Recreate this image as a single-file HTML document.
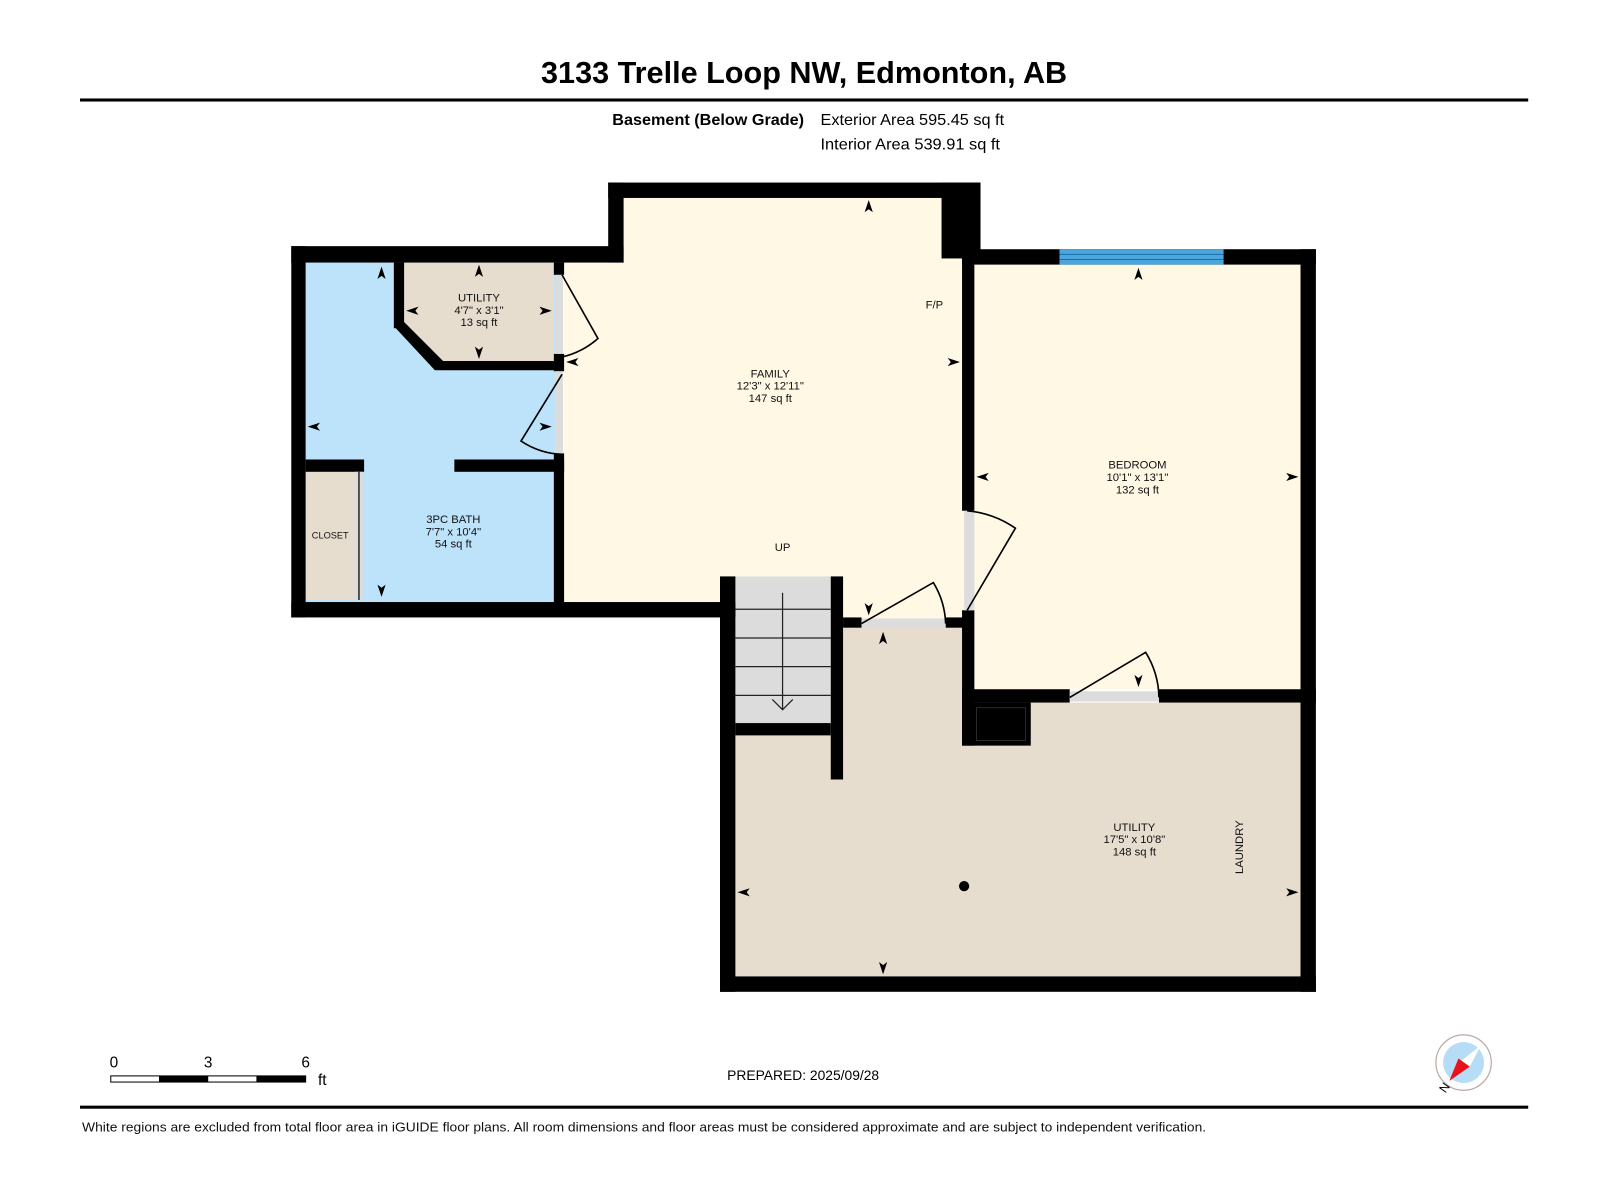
<!DOCTYPE html>
<html><head><meta charset="utf-8"><style>
html,body{margin:0;padding:0;background:#fff;}
svg{display:block;}
text{font-family:"Liberation Sans",Arial,sans-serif;}
</style></head><body>
<svg width="1600" height="1200" viewBox="0 0 1560 1170" xmlns="http://www.w3.org/2000/svg">
<rect width="1560" height="1170" fill="#fff"/>
<text x="784" y="81" font-size="29.5" font-weight="bold" text-anchor="middle" textLength="513" lengthAdjust="spacingAndGlyphs">3133 Trelle Loop NW, Edmonton, AB</text>
<rect x="78" y="96" width="1412" height="3" fill="#000"/>
<text x="784" y="122" font-size="15" font-weight="bold" text-anchor="end" textLength="187" lengthAdjust="spacingAndGlyphs">Basement (Below Grade)</text>
<text x="800" y="122" font-size="15" textLength="179" lengthAdjust="spacingAndGlyphs">Exterior Area 595.45 sq ft</text>
<text x="800" y="146" font-size="15" textLength="175" lengthAdjust="spacingAndGlyphs">Interior Area 539.91 sq ft</text>

<!-- floors -->
<rect x="298" y="256" width="250" height="331" fill="#bde3fb"/>
<rect x="608" y="193" width="332" height="394" fill="#fef8e4"/>
<rect x="550" y="256" width="60" height="331" fill="#fef8e4"/>
<rect x="822" y="587" width="118" height="18" fill="#fef8e4"/>
<rect x="950" y="258" width="318" height="414" fill="#fef8e4"/>
<polygon points="822,608 940,608 940,685 1268,685 1268,952 717,952 717,717 822,717" fill="#e7ddce"/>
<polygon points="394,256 540,256 540,352 430,352 394,318" fill="#e7ddce"/>
<rect x="298" y="460" width="48" height="125" fill="#e7ddce"/>

<!-- stairs -->
<rect x="717" y="562" width="93" height="143" fill="#dcdcdc"/>
<g stroke="#222" stroke-width="1.2">
<line x1="717" y1="594" x2="810" y2="594"/><line x1="717" y1="622" x2="810" y2="622"/>
<line x1="717" y1="650" x2="810" y2="650"/><line x1="717" y1="678" x2="810" y2="678"/>
<line x1="763" y1="578" x2="763" y2="692"/>
<polyline points="753,682 763,692 773,682" fill="none"/>
</g>

<!-- walls -->
<g fill="#000">
<rect x="284" y="240" width="324" height="16"/>
<rect x="284" y="240" width="14" height="362"/>
<rect x="284" y="587" width="433" height="15"/>
<rect x="593" y="178" width="363" height="15"/>
<rect x="593" y="178" width="15" height="78"/>
<rect x="918" y="178" width="38" height="74"/>
<rect x="938" y="243" width="345" height="15"/>
<rect x="1268" y="243" width="15" height="724"/>
<rect x="938" y="243" width="12" height="255"/>
<rect x="938" y="595" width="12" height="132"/>
<rect x="938" y="672" width="105" height="13"/>
<rect x="1130" y="672" width="153" height="13"/>
<rect x="938" y="685" width="67" height="42"/>
<rect x="702" y="562" width="15" height="405"/>
<rect x="702" y="952" width="581" height="15"/>
<rect x="810" y="562" width="12" height="198"/>
<rect x="717" y="705" width="93" height="12"/>
<rect x="822" y="602" width="18" height="10"/>
<rect x="922" y="602" width="18" height="10"/>
<rect x="540" y="256" width="10" height="12"/>
<rect x="540" y="345" width="10" height="17"/>
<rect x="540" y="442" width="10" height="150"/>
<rect x="443" y="448" width="107" height="12"/>
<rect x="298" y="448" width="57" height="12"/>
<rect x="430" y="352" width="115" height="9"/>
<rect x="384" y="256" width="10" height="64"/>
<polygon points="384,318 394,314 432,352 430,361 424,361"/>
</g>
<rect x="952" y="690" width="48" height="32" fill="none" stroke="#333" stroke-width="0.8"/>
<!-- window -->
<rect x="1033" y="243" width="160" height="15" fill="#4aa6dc"/>
<line x1="1033" y1="248" x2="1193" y2="248" stroke="#1b6fa8" stroke-width="1"/>
<line x1="1033" y1="253" x2="1193" y2="253" stroke="#1b6fa8" stroke-width="1"/>
<!-- door gaps -->
<g fill="#dcdcdc">
<rect x="541" y="268" width="8" height="77"/>
<rect x="541" y="362" width="8" height="80"/>
<rect x="940" y="498" width="10" height="97"/>
<rect x="840" y="603" width="82" height="9"/>
<rect x="1043" y="674" width="87" height="10"/>
<rect x="346" y="460" width="8" height="125"/>
</g>
<line x1="350" y1="460" x2="350" y2="585" stroke="#000" stroke-width="1.2"/>
<!-- door swings -->
<g fill="none" stroke="#000" stroke-width="1.6">
<path d="M548,268 L583,330 A80,80 0 0 1 548,348"/>
<path d="M548,365 L508,430 A78,78 0 0 0 548,443"/>
<path d="M943,595 L990,515 A97,97 0 0 0 943,498"/>
<path d="M840,608 L910,568 A82,82 0 0 1 922,608"/>
<path d="M1043,680 L1117,636 A87,87 0 0 1 1130,680"/>
</g>
<!-- arrows -->
<g fill="#000">
<path d="M847,195 l-4,12 l4,-3 l4,3z"/>
<path d="M1110,261 l-4,12 l4,-3 l4,3z"/>
<path d="M467,258 l-4,12 l4,-3 l4,3z"/>
<path d="M372,260 l-4,12 l4,-3 l4,3z"/>
<path d="M467,350 l-4,-12 l4,3 l4,-3z"/>
<path d="M372,582 l-4,-12 l4,3 l4,-3z"/>
<path d="M847,600 l-4,-12 l4,3 l4,-3z"/>
<path d="M861,616 l-4,12 l4,-3 l4,3z"/>
<path d="M1110,670 l-4,-12 l4,3 l4,-3z"/>
<path d="M861,950 l-4,-12 l4,3 l4,-3z"/>
<path d="M396,303 l12,-4 l-3,4 l3,4z"/>
<path d="M538,303 l-12,-4 l3,4 l-3,4z"/>
<path d="M552,353 l12,-4 l-3,4 l3,4z"/>
<path d="M300,416 l12,-4 l-3,4 l3,4z"/>
<path d="M538,416 l-12,-4 l3,4 l-3,4z"/>
<path d="M936,353 l-12,-4 l3,4 l-3,4z"/>
<path d="M952,465 l12,-4 l-3,4 l3,4z"/>
<path d="M1266,465 l-12,-4 l3,4 l-3,4z"/>
<path d="M719,870 l12,-4 l-3,4 l3,4z"/>
<path d="M1266,870 l-12,-4 l3,4 l-3,4z"/>
<circle cx="940" cy="864" r="5"/>
</g>
<!-- labels -->
<g font-size="11" text-anchor="middle" fill="#111">
<text x="467" y="294">UTILITY</text><text x="467" y="306">4'7" x 3'1"</text><text x="467" y="318">13 sq ft</text>
<text x="751" y="368">FAMILY</text><text x="751" y="380">12'3" x 12'11"</text><text x="751" y="392">147 sq ft</text>
<text x="911" y="301">F/P</text>
<text x="763" y="537">UP</text>
<text x="1109" y="457">BEDROOM</text><text x="1109" y="469">10'1" x 13'1"</text><text x="1109" y="481">132 sq ft</text>
<text x="442" y="510">3PC BATH</text><text x="442" y="522">7'7" x 10'4"</text><text x="442" y="534">54 sq ft</text>
<text x="322" y="525" font-size="9">CLOSET</text>
<text x="1106" y="810">UTILITY</text><text x="1106" y="822">17'5" x 10'8"</text><text x="1106" y="834">148 sq ft</text>
<text x="0" y="0" transform="translate(1212,826) rotate(-90)">LAUNDRY</text>
</g>
<!-- scale -->
<g font-size="15">
<text x="111" y="1041" text-anchor="middle">0</text>
<text x="203" y="1041" text-anchor="middle">3</text>
<text x="298" y="1041" text-anchor="middle">6</text>
<text x="310" y="1058">ft</text>
</g>
<rect x="108" y="1049" width="190" height="6" fill="#fff" stroke="#000" stroke-width="1"/>
<rect x="155" y="1049" width="48" height="6" fill="#000"/>
<rect x="250" y="1049" width="48" height="6" fill="#000"/>
<text x="709" y="1053" font-size="13.5">PREPARED: 2025/09/28</text>
<!-- compass -->
<circle cx="1427" cy="1036" r="27" fill="#fff" stroke="#b8aaa5" stroke-width="1.2"/>
<circle cx="1427" cy="1036" r="20" fill="#b7dcf5"/>
<polygon points="1444,1019 1433,1040 1424,1035" fill="#fff"/>
<polygon points="1413,1054 1422,1032 1433,1040" fill="#e8121b"/>
<text x="1406" y="1068" font-size="12" transform="rotate(-55 1406 1064)">N</text>
<rect x="78" y="1078" width="1412" height="3" fill="#000"/>
<text x="80" y="1103" font-size="13" fill="#111" textLength="1096" lengthAdjust="spacingAndGlyphs">White regions are excluded from total floor area in iGUIDE floor plans. All room dimensions and floor areas must be considered approximate and are subject to independent verification.</text>
</svg>
</body></html>
